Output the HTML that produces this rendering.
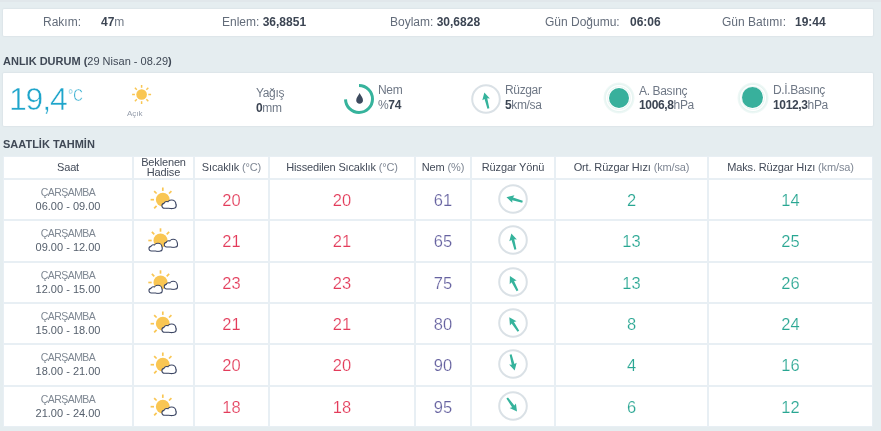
<!DOCTYPE html>
<html lang="tr"><head><meta charset="utf-8"><title>Hava Durumu</title>
<style>
*{box-sizing:border-box;margin:0;padding:0}
html,body{width:881px;height:431px;overflow:hidden}
body{background:#e5edf0;font-family:"Liberation Sans",Arial,sans-serif;color:#4a5260;position:relative}
.a{position:absolute;white-space:nowrap;line-height:1}
.box{position:absolute;background:#fff;border-radius:1px;box-shadow:0 0 2px rgba(60,80,100,.14)}
.lbl{color:#636c7a;font-size:12px}
.val{color:#3c4553;font-size:12px;font-weight:bold}
.val i{font-style:normal;font-weight:normal;color:#6f7886}
.h{font-size:11px;font-weight:bold;color:#3f4855}
.h span{font-weight:normal}
.t2{font-size:12px;letter-spacing:-.35px;color:#6f7886}
.t2 b{color:#3c4553}
.t2 i{font-style:normal}
.grid{position:absolute;left:3px;top:156px;width:870px;height:271px;padding:1px;background:#e8eff4;display:grid;
 grid-template-columns:128px 59px 73px 144px 54px 82px 151px 163px;
 grid-template-rows:21px 39px 40px 39px 39px 40px 39px;gap:2px}
.grid>div{background:#fff;position:relative;text-align:center}
.th{font-size:11px;letter-spacing:-.15px;color:#434b59;line-height:21px}
.th .g{color:#7f8794}
.day{position:absolute;left:0;right:0;top:6px;font-size:10.5px;color:#7f8893;line-height:12px;letter-spacing:-.55px}
.tm{position:absolute;left:0;right:0;top:20px;font-size:11px;color:#56606d;line-height:12px}
.num{font-size:16.5px;line-height:41px;-webkit-text-stroke:.2px #fff}
.red{color:#e33b5a}
.hum{color:#6662a0}
.tl{color:#28a692}
.ic{position:absolute;left:0;top:0}
.wd{position:absolute;left:26px;top:4px}
</style></head><body>

<div class="a" style="left:0;top:0;width:881px;height:2px;background:#e1e7eb"></div>
<div class="box" style="left:3px;top:9px;width:870px;height:27px"></div>
<div class="a lbl" style="left:43px;top:16px">Rakım:</div>
<div class="a val" style="left:101px;top:16px">47<i>m</i></div>
<div class="a lbl" style="left:222px;top:16px">Enlem: <b class="val" style="font-size:12px">36,8851</b></div>
<div class="a lbl" style="left:390px;top:16px">Boylam: <b class="val" style="font-size:12px">30,6828</b></div>
<div class="a lbl" style="left:545px;top:16px">Gün Doğumu:</div>
<div class="a val" style="left:630px;top:16px">06:06</div>
<div class="a lbl" style="left:722px;top:16px">Gün Batımı:</div>
<div class="a val" style="left:795px;top:16px">19:44</div>

<div class="a h" style="left:3px;top:56px">ANLIK DURUM (<span>29 Nisan - 08.29</span>)</div>

<div class="box" style="left:3px;top:73px;width:870px;height:53px"></div>
<div class="a" style="left:9px;top:83px;font-size:32px;letter-spacing:-1.2px;color:#1ea5cb;-webkit-text-stroke:.5px #fff">19,4</div>
<div class="a" style="left:67.5px;top:87px;font-size:16.5px;color:#1ea5cb;-webkit-text-stroke:.45px #fff;transform:scaleX(.8);transform-origin:0 0">°C</div>
<svg class="a" style="left:130px;top:83px" width="24" height="24" viewBox="0 0 24 24">
 <circle cx="11.6" cy="11.5" r="5.3" fill="#f9c653"/>
 <g stroke="#f9c653" stroke-width="1.5">
  <line x1="11.60" y1="4.80" x2="11.60" y2="2.00"/><line x1="16.34" y1="6.76" x2="18.32" y2="4.78"/><line x1="18.30" y1="11.50" x2="21.10" y2="11.50"/><line x1="16.34" y1="16.24" x2="18.32" y2="18.22"/><line x1="11.60" y1="18.20" x2="11.60" y2="21.00"/><line x1="6.86" y1="16.24" x2="4.88" y2="18.22"/><line x1="4.90" y1="11.50" x2="2.10" y2="11.50"/><line x1="6.86" y1="6.76" x2="4.88" y2="4.78"/>
 </g></svg>
<div class="a" style="left:127px;top:110px;font-size:8px;color:#959dab">Açık</div>

<div class="a t2" style="left:256px;top:87px">Yağış</div>
<div class="a t2" style="left:256px;top:102px"><b>0</b>mm</div>

<svg class="a" style="left:344px;top:84px" width="30" height="30" viewBox="0 0 30 30">
 <circle cx="15" cy="15" r="13.5" fill="none" stroke="#36b39c" stroke-width="3" stroke-dasharray="62.77 84.82" transform="rotate(-90 15 15)"/>
 <path d="M15.6 9 C16.6 11.5 19 13.6 19 16.2 C19 18.4 17.4 19.8 15.6 19.8 C13.8 19.8 12.2 18.4 12.2 16.2 C12.2 13.6 14.6 11.5 15.6 9Z" fill="#3d4a5e"/>
</svg>
<div class="a t2" style="left:378px;top:84px">Nem</div>
<div class="a t2" style="left:378px;top:99px"><i>%</i><b>74</b></div>

<svg class="a" style="left:471px;top:84px" width="30" height="30" viewBox="0 0 30 30">
 <circle cx="15" cy="15" r="13.8" fill="none" stroke="#dae1e6" stroke-width="2"/>
 <path transform="translate(15 15) rotate(-14)" d="M0 -6.8 L3.9 0.4 L1.4 -0.4 L1.0 9.9 L-1.0 9.9 L-1.4 -0.4 L-3.9 0.4 Z" fill="#35b39c"/>
</svg>
<div class="a t2" style="left:505px;top:84px">Rüzgar</div>
<div class="a t2" style="left:505px;top:99px"><b>5</b>km/sa</div>

<div class="a" style="left:603px;top:82px;width:32px;height:32px;border-radius:50%;background:radial-gradient(circle,#fff 0,#fff 10.5px,#e6f4f1 11px,#fff 12.5px,#e6f4f1 13.5px,#eef8f6 15px,rgba(255,255,255,0) 16px)"></div>
<div class="a" style="left:609px;top:88px;width:20px;height:20px;border-radius:50%;background:#38b09c"></div>
<div class="a t2" style="left:639px;top:85px">A. Basınç</div>
<div class="a t2" style="left:639px;top:99px"><b>1006,8</b>hPa</div>

<div class="a" style="left:737px;top:82px;width:32px;height:32px;border-radius:50%;background:radial-gradient(circle,#fff 0,#fff 10.5px,#e6f4f1 11px,#fff 12.5px,#e6f4f1 13.5px,#eef8f6 15px,rgba(255,255,255,0) 16px)"></div>
<div class="a" style="left:742px;top:87px;width:21px;height:21px;border-radius:50%;background:#38b09c"></div>
<div class="a t2" style="left:773px;top:84px">D.İ.Basınç</div>
<div class="a t2" style="left:773px;top:99px"><b>1012,3</b>hPa</div>

<div class="a h" style="left:3px;top:139px">SAATLİK TAHMİN</div>

<div class="grid">
 <div class="th">Saat</div>
 <div class="th" style="line-height:9.5px;padding-top:1px">Beklenen<br>Hadise</div>
 <div class="th">Sıcaklık <span class="g">(°C)</span></div>
 <div class="th">Hissedilen Sıcaklık <span class="g">(°C)</span></div>
 <div class="th">Nem <span class="g">(%)</span></div>
 <div class="th">Rüzgar Yönü</div>
 <div class="th">Ort. Rüzgar Hızı <span class="g">(km/sa)</span></div>
 <div class="th">Maks. Rüzgar Hızı <span class="g">(km/sa)</span></div>
<!--R-->
 <div><div class="day">ÇARŞAMBA</div><div class="tm">06.00 - 09.00</div></div>
 <div><svg class="ic" width="59" height="40" viewBox="0 0 59 40"><circle cx="28.8" cy="19.7" r="6.9" fill="#f9c653"/><g stroke="#f9c653" stroke-width="1.7" stroke-linecap="butt"><line x1="28.80" y1="10.90" x2="28.80" y2="7.50"/><line x1="22.58" y1="13.48" x2="20.17" y2="11.07"/><line x1="35.02" y1="13.48" x2="37.43" y2="11.07"/><line x1="20.00" y1="19.70" x2="16.60" y2="19.70"/><line x1="22.58" y1="25.92" x2="20.17" y2="28.33"/></g><g transform="translate(27.2 19.3) scale(1.0)"><g fill="#3b4563" stroke="#3b4563" stroke-width="2.3"><rect x="1.3" y="4.6" width="13.1" height="3.8" rx="1.9"/><circle cx="10.4" cy="5.0" r="3.7"/><circle cx="5.6" cy="5.3" r="2.5"/></g><g fill="#fff"><rect x="1.3" y="4.6" width="13.1" height="3.8" rx="1.9"/><circle cx="10.4" cy="5.0" r="3.7"/><circle cx="5.6" cy="5.3" r="2.5"/></g></g></svg></div>
 <div class="num red">20</div>
 <div class="num red">20</div>
 <div class="num hum">61</div>
 <div><svg class="wd" width="30" height="30" viewBox="0 0 30 30"><circle cx="15" cy="15" r="13.8" fill="none" stroke="#dae1e6" stroke-width="2"/><path transform="translate(15 15) rotate(-74)" d="M0 -6.8 L3.9 0.4 L1.4 -0.4 L1.0 9.9 L-1.0 9.9 L-1.4 -0.4 L-3.9 0.4 Z" fill="#35b39c"/></svg></div>
 <div class="num tl">2</div>
 <div class="num tl">14</div>
 <div><div class="day">ÇARŞAMBA</div><div class="tm">09.00 - 12.00</div></div>
 <div><svg class="ic" width="59" height="40" viewBox="0 0 59 40"><circle cx="26.5" cy="19.5" r="7" fill="#f9c653"/><g stroke="#f9c653" stroke-width="1.7"><line x1="26.50" y1="10.70" x2="26.50" y2="7.30"/><line x1="20.28" y1="13.28" x2="17.87" y2="10.87"/><line x1="32.72" y1="13.28" x2="35.13" y2="10.87"/><line x1="17.70" y1="19.50" x2="14.30" y2="19.50"/></g><g transform="translate(14.3 21.6) scale(0.93)"><g fill="#3b4563" stroke="#3b4563" stroke-width="2.3"><rect x="1.3" y="4.6" width="13.1" height="3.8" rx="1.9"/><circle cx="10.4" cy="5.0" r="3.7"/><circle cx="5.6" cy="5.3" r="2.5"/></g><g fill="#fff"><rect x="1.3" y="4.6" width="13.1" height="3.8" rx="1.9"/><circle cx="10.4" cy="5.0" r="3.7"/><circle cx="5.6" cy="5.3" r="2.5"/></g></g><g transform="translate(29.6 17.6) scale(0.93)"><g fill="#3b4563" stroke="#3b4563" stroke-width="2.3"><rect x="1.3" y="4.6" width="13.1" height="3.8" rx="1.9"/><circle cx="10.4" cy="5.0" r="3.7"/><circle cx="5.6" cy="5.3" r="2.5"/></g><g fill="#fff"><rect x="1.3" y="4.6" width="13.1" height="3.8" rx="1.9"/><circle cx="10.4" cy="5.0" r="3.7"/><circle cx="5.6" cy="5.3" r="2.5"/></g></g></svg></div>
 <div class="num red">21</div>
 <div class="num red">21</div>
 <div class="num hum">65</div>
 <div><svg class="wd" width="30" height="30" viewBox="0 0 30 30"><circle cx="15" cy="15" r="13.8" fill="none" stroke="#dae1e6" stroke-width="2"/><path transform="translate(15 15) rotate(-14)" d="M0 -6.8 L3.9 0.4 L1.4 -0.4 L1.0 9.9 L-1.0 9.9 L-1.4 -0.4 L-3.9 0.4 Z" fill="#35b39c"/></svg></div>
 <div class="num tl">13</div>
 <div class="num tl">25</div>
 <div><div class="day">ÇARŞAMBA</div><div class="tm">12.00 - 15.00</div></div>
 <div><svg class="ic" width="59" height="40" viewBox="0 0 59 40"><circle cx="26.5" cy="19.5" r="7" fill="#f9c653"/><g stroke="#f9c653" stroke-width="1.7"><line x1="26.50" y1="10.70" x2="26.50" y2="7.30"/><line x1="20.28" y1="13.28" x2="17.87" y2="10.87"/><line x1="32.72" y1="13.28" x2="35.13" y2="10.87"/><line x1="17.70" y1="19.50" x2="14.30" y2="19.50"/></g><g transform="translate(14.3 21.6) scale(0.93)"><g fill="#3b4563" stroke="#3b4563" stroke-width="2.3"><rect x="1.3" y="4.6" width="13.1" height="3.8" rx="1.9"/><circle cx="10.4" cy="5.0" r="3.7"/><circle cx="5.6" cy="5.3" r="2.5"/></g><g fill="#fff"><rect x="1.3" y="4.6" width="13.1" height="3.8" rx="1.9"/><circle cx="10.4" cy="5.0" r="3.7"/><circle cx="5.6" cy="5.3" r="2.5"/></g></g><g transform="translate(29.6 17.6) scale(0.93)"><g fill="#3b4563" stroke="#3b4563" stroke-width="2.3"><rect x="1.3" y="4.6" width="13.1" height="3.8" rx="1.9"/><circle cx="10.4" cy="5.0" r="3.7"/><circle cx="5.6" cy="5.3" r="2.5"/></g><g fill="#fff"><rect x="1.3" y="4.6" width="13.1" height="3.8" rx="1.9"/><circle cx="10.4" cy="5.0" r="3.7"/><circle cx="5.6" cy="5.3" r="2.5"/></g></g></svg></div>
 <div class="num red">23</div>
 <div class="num red">23</div>
 <div class="num hum">75</div>
 <div><svg class="wd" width="30" height="30" viewBox="0 0 30 30"><circle cx="15" cy="15" r="13.8" fill="none" stroke="#dae1e6" stroke-width="2"/><path transform="translate(15 15) rotate(-27)" d="M0 -6.8 L3.9 0.4 L1.4 -0.4 L1.0 9.9 L-1.0 9.9 L-1.4 -0.4 L-3.9 0.4 Z" fill="#35b39c"/></svg></div>
 <div class="num tl">13</div>
 <div class="num tl">26</div>
 <div><div class="day">ÇARŞAMBA</div><div class="tm">15.00 - 18.00</div></div>
 <div><svg class="ic" width="59" height="40" viewBox="0 0 59 40"><circle cx="28.8" cy="19.7" r="6.9" fill="#f9c653"/><g stroke="#f9c653" stroke-width="1.7" stroke-linecap="butt"><line x1="28.80" y1="10.90" x2="28.80" y2="7.50"/><line x1="22.58" y1="13.48" x2="20.17" y2="11.07"/><line x1="35.02" y1="13.48" x2="37.43" y2="11.07"/><line x1="20.00" y1="19.70" x2="16.60" y2="19.70"/><line x1="22.58" y1="25.92" x2="20.17" y2="28.33"/></g><g transform="translate(27.2 19.3) scale(1.0)"><g fill="#3b4563" stroke="#3b4563" stroke-width="2.3"><rect x="1.3" y="4.6" width="13.1" height="3.8" rx="1.9"/><circle cx="10.4" cy="5.0" r="3.7"/><circle cx="5.6" cy="5.3" r="2.5"/></g><g fill="#fff"><rect x="1.3" y="4.6" width="13.1" height="3.8" rx="1.9"/><circle cx="10.4" cy="5.0" r="3.7"/><circle cx="5.6" cy="5.3" r="2.5"/></g></g></svg></div>
 <div class="num red">21</div>
 <div class="num red">21</div>
 <div class="num hum">80</div>
 <div><svg class="wd" width="30" height="30" viewBox="0 0 30 30"><circle cx="15" cy="15" r="13.8" fill="none" stroke="#dae1e6" stroke-width="2"/><path transform="translate(15 15) rotate(-33)" d="M0 -6.8 L3.9 0.4 L1.4 -0.4 L1.0 9.9 L-1.0 9.9 L-1.4 -0.4 L-3.9 0.4 Z" fill="#35b39c"/></svg></div>
 <div class="num tl">8</div>
 <div class="num tl">24</div>
 <div><div class="day">ÇARŞAMBA</div><div class="tm">18.00 - 21.00</div></div>
 <div><svg class="ic" width="59" height="40" viewBox="0 0 59 40"><circle cx="28.8" cy="19.7" r="6.9" fill="#f9c653"/><g stroke="#f9c653" stroke-width="1.7" stroke-linecap="butt"><line x1="28.80" y1="10.90" x2="28.80" y2="7.50"/><line x1="22.58" y1="13.48" x2="20.17" y2="11.07"/><line x1="35.02" y1="13.48" x2="37.43" y2="11.07"/><line x1="20.00" y1="19.70" x2="16.60" y2="19.70"/><line x1="22.58" y1="25.92" x2="20.17" y2="28.33"/></g><g transform="translate(27.2 19.3) scale(1.0)"><g fill="#3b4563" stroke="#3b4563" stroke-width="2.3"><rect x="1.3" y="4.6" width="13.1" height="3.8" rx="1.9"/><circle cx="10.4" cy="5.0" r="3.7"/><circle cx="5.6" cy="5.3" r="2.5"/></g><g fill="#fff"><rect x="1.3" y="4.6" width="13.1" height="3.8" rx="1.9"/><circle cx="10.4" cy="5.0" r="3.7"/><circle cx="5.6" cy="5.3" r="2.5"/></g></g></svg></div>
 <div class="num red">20</div>
 <div class="num red">20</div>
 <div class="num hum">90</div>
 <div><svg class="wd" width="30" height="30" viewBox="0 0 30 30"><circle cx="15" cy="15" r="13.8" fill="none" stroke="#dae1e6" stroke-width="2"/><path transform="translate(15 15) rotate(166)" d="M0 -6.8 L3.9 0.4 L1.4 -0.4 L1.0 9.9 L-1.0 9.9 L-1.4 -0.4 L-3.9 0.4 Z" fill="#35b39c"/></svg></div>
 <div class="num tl">4</div>
 <div class="num tl">16</div>
 <div><div class="day">ÇARŞAMBA</div><div class="tm">21.00 - 24.00</div></div>
 <div><svg class="ic" width="59" height="40" viewBox="0 0 59 40"><circle cx="28.8" cy="19.7" r="6.9" fill="#f9c653"/><g stroke="#f9c653" stroke-width="1.7" stroke-linecap="butt"><line x1="28.80" y1="10.90" x2="28.80" y2="7.50"/><line x1="22.58" y1="13.48" x2="20.17" y2="11.07"/><line x1="35.02" y1="13.48" x2="37.43" y2="11.07"/><line x1="20.00" y1="19.70" x2="16.60" y2="19.70"/><line x1="22.58" y1="25.92" x2="20.17" y2="28.33"/></g><g transform="translate(27.2 19.3) scale(1.0)"><g fill="#3b4563" stroke="#3b4563" stroke-width="2.3"><rect x="1.3" y="4.6" width="13.1" height="3.8" rx="1.9"/><circle cx="10.4" cy="5.0" r="3.7"/><circle cx="5.6" cy="5.3" r="2.5"/></g><g fill="#fff"><rect x="1.3" y="4.6" width="13.1" height="3.8" rx="1.9"/><circle cx="10.4" cy="5.0" r="3.7"/><circle cx="5.6" cy="5.3" r="2.5"/></g></g></svg></div>
 <div class="num red">18</div>
 <div class="num red">18</div>
 <div class="num hum">95</div>
 <div><svg class="wd" width="30" height="30" viewBox="0 0 30 30"><circle cx="15" cy="15" r="13.8" fill="none" stroke="#dae1e6" stroke-width="2"/><path transform="translate(15 15) rotate(144)" d="M0 -6.8 L3.9 0.4 L1.4 -0.4 L1.0 9.9 L-1.0 9.9 L-1.4 -0.4 L-3.9 0.4 Z" fill="#35b39c"/></svg></div>
 <div class="num tl">6</div>
 <div class="num tl">12</div>
<!--/R-->
</div>
</body></html>
